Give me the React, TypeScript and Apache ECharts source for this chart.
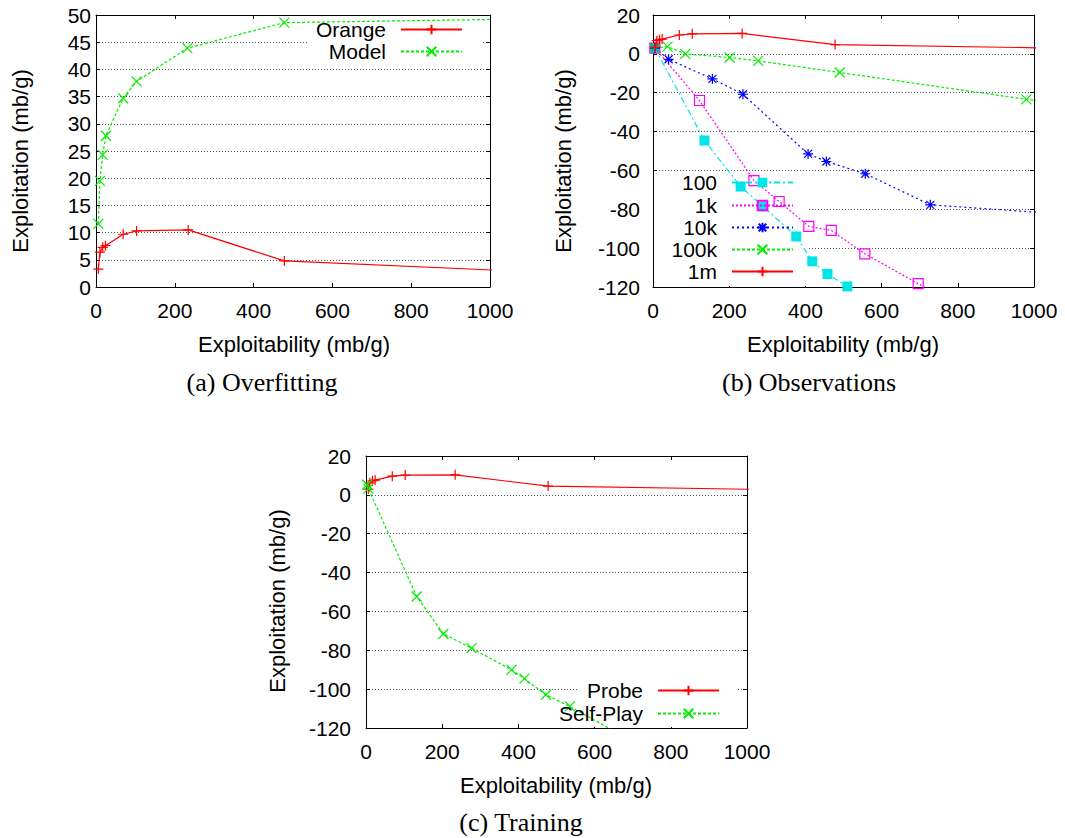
import React, { useEffect, useRef } from "react";
import * as echarts from "echarts";

// ---------- data ----------
const X_TICKS = [0, 200, 400, 600, 800, 1000];

// (a) Overfitting
const ORANGE_X = [6, 10, 17, 24, 69, 103, 234, 478, 1200];
const ORANGE_Y = [3.3, 6.4, 7.3, 7.6, 9.7, 10.3, 10.5, 4.8, 2.5];
const MODEL_X = [6, 10, 17, 25, 69, 103, 232, 478, 1200];
const MODEL_Y = [11.6, 19.5, 24.3, 27.8, 34.7, 37.8, 43.9, 48.6, 49.4];

// (b) Observations
const OBS100_X = [5, 135, 230, 289, 376, 418, 458, 510, 560];
const OBS100_Y = [3, -44.6, -68.3, -78.5, -94, -106.8, -113.3, -119.7, -127];
const OBS1K_X = [5, 122, 265, 331, 409, 468, 556, 696, 760];
const OBS1K_Y = [3, -24, -65.2, -76, -88.8, -90.9, -102.9, -118.3, -125];
const OBS10K_X = [5, 41, 156, 236, 407, 455, 557, 728, 1100];
const OBS10K_Y = [3, -2.8, -12.9, -20.8, -51.5, -55.4, -61.7, -77.7, -82.8];
const OBS100K_X = [5, 38, 85, 201, 276, 490, 980, 1100];
const OBS100K_Y = [3, 3.7, 0, -1.9, -3.6, -9.6, -23.4, -26.2];
const OBS1M_X = [6, 10, 17, 24, 69, 103, 234, 478, 1200];
const OBS1M_Y = [3.5, 6.8, 7.3, 7.6, 9.7, 10.3, 10.5, 4.8, 2.5];

// (c) Training
const PROBE_X = [6, 10, 17, 24, 69, 103, 234, 478, 1200];
const PROBE_Y = [3.0, 6.2, 7.2, 7.6, 9.6, 10.2, 10.3, 4.5, 2.3];
const SELF_X = [3, 6, 133, 203, 277, 382, 416, 472, 535, 700];
const SELF_Y = [5.2, 3.2, -52.3, -71.5, -78.9, -90, -94.6, -102.9, -108.9, -127];

const zip = (xs: number[], ys: number[]) => xs.map((x, i) => [x, ys[i]]);

const FONT = "'Liberation Sans', Arial, Helvetica, sans-serif";
const SERIF = "'Liberation Serif', 'Times New Roman', serif";

const PLUS = "path://M5 0L5 10M0 5L10 5";
const CROSS = "path://M0 0L10 10M10 0L0 10";
const STAR = "path://M5 0L5 10M0 5L10 5M1 1L9 9M9 1L1 9";
const SQUARE = "path://M0 0L10 0L10 10L0 10Z";

const plain = (v: number) => String(v);

function axes(gridIndex: number, yMin: number, yMax: number, yInt: number, yMargin: number) {
  const base = {
    type: "value",
    gridIndex,
    axisLine: { show: true, onZero: false, lineStyle: { color: "#000", width: 1 } },
    axisTick: { show: true, inside: true, length: 4, lineStyle: { color: "#000", width: 1 } },
  };
  const xs = [
    {
      ...base,
      position: "bottom",
      min: X_TICKS[0],
      max: X_TICKS[X_TICKS.length - 1],
      interval: 200,
      axisLabel: { color: "#000", fontSize: 21, fontFamily: FONT, margin: 13, formatter: plain },
      splitLine: { show: false },
    },
    {
      ...base,
      position: "top",
      min: X_TICKS[0],
      max: X_TICKS[X_TICKS.length - 1],
      interval: 200,
      axisLabel: { show: false },
      splitLine: { show: false },
    },
  ];
  const ys = [
    {
      ...base,
      position: "left",
      min: yMin,
      max: yMax,
      interval: yInt,
      axisLabel: { color: "#000", fontSize: 21, fontFamily: FONT, margin: yMargin, formatter: plain },
      splitLine: { show: true, lineStyle: { color: "#555", width: 1, type: [1, 2] } },
    },
    {
      ...base,
      position: "right",
      min: yMin,
      max: yMax,
      interval: yInt,
      axisLabel: { show: false },
      splitLine: { show: false },
    },
  ];
  return { xs, ys };
}

function series(
  name: string,
  axisIdx: number,
  data: number[][],
  color: string,
  lineType: any,
  symbol: string,
  symbolSize: number,
  fill?: string
) {
  return {
    name,
    type: "line",
    xAxisIndex: axisIdx * 2,
    yAxisIndex: axisIdx * 2,
    data,
    clip: true,
    showSymbol: true,
    showAllSymbol: true,
    symbol,
    symbolSize,
    lineStyle: { color, width: 1.2, type: lineType },
    itemStyle: {
      color: fill ?? color,
      borderColor: color,
      borderWidth: symbol === "rect" ? 0 : 1.2,
    },
    emphasis: { disabled: true },
    z: 2,
  };
}

function legendItem(name: string, right: number, centerY: number) {
  return {
    data: [name],
    right,
    top: centerY - 12,
    orient: "horizontal",
    align: "right",
    itemWidth: 61,
    itemHeight: 12,
    padding: 0,
    selectedMode: false,
    textStyle: { color: "#000", fontSize: 21, fontFamily: FONT, padding: [0, 10, 0, 0] },
  };
}

export default function App() {
  const ref = useRef<HTMLDivElement>(null);

  useEffect(() => {
    if (!ref.current) return;
    const chart = echarts.init(ref.current, undefined, { renderer: "svg" });

    const a = axes(0, 0, 50, 5, 5);
    const b = axes(1, -120, 20, 20, 13);
    const c = axes(2, -120, 20, 20, 15);

    const option: any = {
      animation: false,
      backgroundColor: "#fff",
      grid: [
        { left: 96, top: 15, width: 394, height: 272 },
        { left: 653, top: 15, width: 381, height: 272 },
        { left: 366, top: 456, width: 381, height: 272 },
      ],
      xAxis: [...a.xs, ...b.xs, ...c.xs],
      yAxis: [...a.ys, ...b.ys, ...c.ys],
      legend: [
        legendItem("Orange", 602, 31),
        legendItem("Model", 602, 53),
        legendItem("100", 271, 184),
        legendItem("1k", 271, 207),
        legendItem("10k", 271, 229),
        legendItem("100k", 271, 251),
        legendItem("1m", 271, 273),
        legendItem("Probe", 345, 692),
        legendItem("Self-Play", 345, 715),
      ],
      series: [
        series("Orange", 0, zip(ORANGE_X, ORANGE_Y), "#ff0000", "solid", PLUS, 10),
        series("Model", 0, zip(MODEL_X, MODEL_Y), "#00ee00", [3, 2], CROSS, 10),
        series("100", 1, zip(OBS100_X, OBS100_Y), "#00e5e5", [6, 3, 2, 3], "rect", 10),
        series("1k", 1, zip(OBS1K_X, OBS1K_Y), "#ff00ff", [2, 2], SQUARE, 10, "rgba(0,0,0,0)"),
        series("10k", 1, zip(OBS10K_X, OBS10K_Y), "#0000ff", [2, 3], STAR, 10),
        series("100k", 1, zip(OBS100K_X, OBS100K_Y), "#00ee00", [3, 2], CROSS, 10),
        series("1m", 1, zip(OBS1M_X, OBS1M_Y), "#ff0000", "solid", PLUS, 10),
        series("Probe", 2, zip(PROBE_X, PROBE_Y), "#ff0000", "solid", PLUS, 10),
        series("Self-Play", 2, zip(SELF_X, SELF_Y), "#00ee00", [3, 2], CROSS, 10),
      ],
      graphic: {
        elements: [
          // key boxes blank the grid lines behind the legends
          { type: "rect", z: 1, silent: true, shape: { x: 307, y: 16, width: 174, height: 46 }, style: { fill: "#fff" } },
          { type: "rect", z: 1, silent: true, shape: { x: 654, y: 176, width: 154, height: 110 }, style: { fill: "#fff" } },
          { type: "rect", z: 1, silent: true, shape: { x: 578, y: 660, width: 160, height: 67 }, style: { fill: "#fff" } },
          // axis titles
          { type: "text", x: 294, y: 344, style: { text: "Exploitability (mb/g)", font: `22px ${FONT}`, fill: "#000", align: "center", verticalAlign: "middle" } },
          { type: "text", x: 843, y: 344, style: { text: "Exploitability (mb/g)", font: `22px ${FONT}`, fill: "#000", align: "center", verticalAlign: "middle" } },
          { type: "text", x: 556, y: 785, style: { text: "Exploitability (mb/g)", font: `22px ${FONT}`, fill: "#000", align: "center", verticalAlign: "middle" } },
          { type: "text", x: 20, y: 161, rotation: Math.PI / 2, style: { text: "Exploitation (mb/g)", font: `22px ${FONT}`, fill: "#000", align: "center", verticalAlign: "middle" } },
          { type: "text", x: 563, y: 161, rotation: Math.PI / 2, style: { text: "Exploitation (mb/g)", font: `22px ${FONT}`, fill: "#000", align: "center", verticalAlign: "middle" } },
          { type: "text", x: 277, y: 601, rotation: Math.PI / 2, style: { text: "Exploitation (mb/g)", font: `22px ${FONT}`, fill: "#000", align: "center", verticalAlign: "middle" } },
          // captions
          { type: "text", x: 262, y: 382, style: { text: "(a) Overfitting", font: `26px ${SERIF}`, fill: "#000", align: "center", verticalAlign: "middle" } },
          { type: "text", x: 809, y: 382, style: { text: "(b) Observations", font: `26px ${SERIF}`, fill: "#000", align: "center", verticalAlign: "middle" } },
          { type: "text", x: 521, y: 822, style: { text: "(c) Training", font: `26px ${SERIF}`, fill: "#000", align: "center", verticalAlign: "middle" } },
        ],
      },
    };

    chart.setOption(option);
    return () => chart.dispose();
  }, []);

  return (
    <div
      ref={ref}
      style={{ position: "fixed", left: 0, top: 0, width: 1065, height: 838, background: "#fff" }}
    />
  );
}
